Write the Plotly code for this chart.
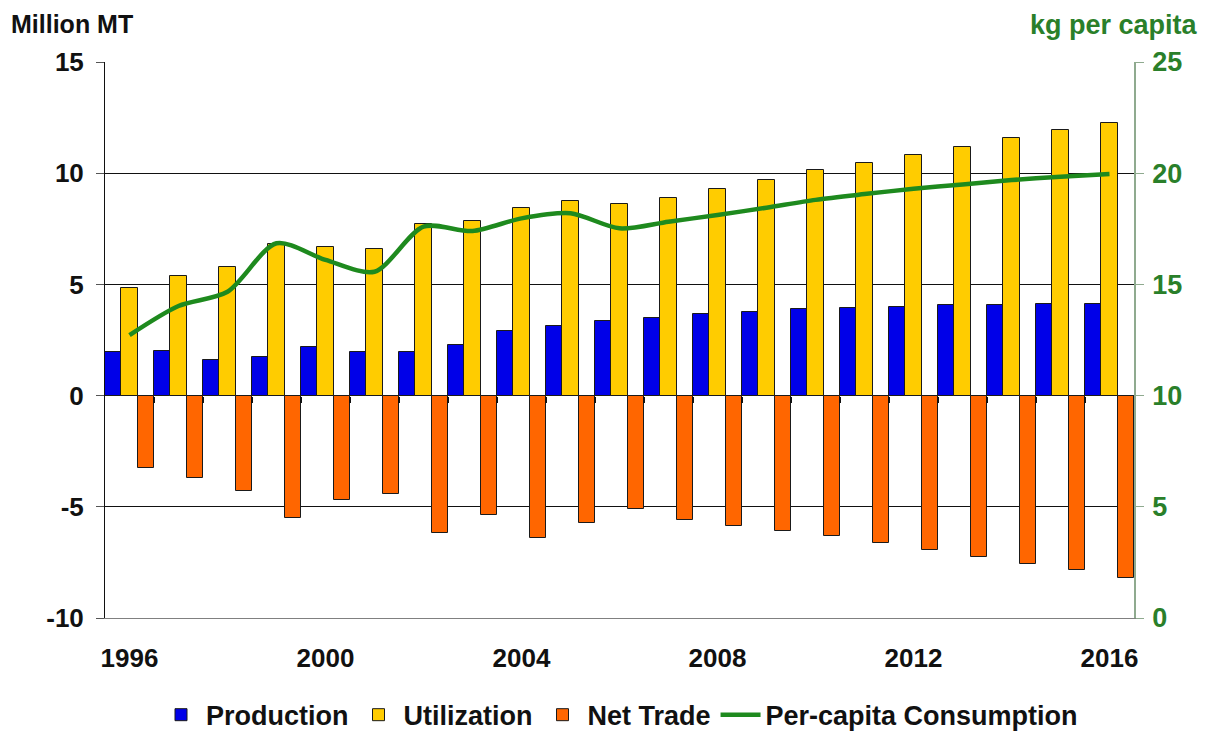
import plotly.graph_objects as go

years = list(range(1996, 2017))
production = [1.95, 2.02, 1.60, 1.75, 2.20, 1.95, 1.95, 2.29, 2.92, 3.13, 3.37,
              3.48, 3.66, 3.78, 3.88, 3.94, 4.00, 4.06, 4.06, 4.12, 4.12]
utilization = [4.83, 5.38, 5.79, 6.83, 6.69, 6.61, 7.72, 7.87, 8.42, 8.75, 8.63,
               8.90, 9.31, 9.71, 10.15, 10.48, 10.84, 11.17, 11.59, 11.93, 12.26]
net_trade = [-3.25, -3.72, -4.27, -5.52, -4.69, -4.42, -6.20, -5.35, -6.42, -5.74, -5.10,
             -5.58, -5.86, -6.07, -6.33, -6.62, -6.94, -7.27, -7.57, -7.85, -8.20]
per_capita = [12.72, 14.03, 14.67, 16.85, 16.10, 15.57, 17.60, 17.40, 17.97, 18.20, 17.52,
              17.82, 18.12, 18.45, 18.80, 19.06, 19.30, 19.49, 19.69, 19.84, 19.96]
x_ticks = [1996, 2000, 2004, 2008, 2012, 2016]
left_ticks = [-10, -5, 0, 5, 10, 15]
left_labels = ["-10", "-5", "0", "5", "10", "15"]
right_ticks = [0, 5, 10, 15, 20, 25]

FONT = "Liberation Sans"
GREEN = "#1E8A1E"
TXT_GREEN = "#2A7F2A"
Y_MIN, Y_MAX = -10, 15

fig = go.Figure()
fig.add_trace(go.Bar(x=years, y=production, name="Production",
                     marker=dict(color="#0000E8", line=dict(color="#1a1a1a", width=1))))
fig.add_trace(go.Bar(x=years, y=utilization, name="Utilization",
                     marker=dict(color="#FFCC00", line=dict(color="#1a1a1a", width=1))))
fig.add_trace(go.Bar(x=years, y=net_trade, name="Net Trade",
                     marker=dict(color="#FF6600", line=dict(color="#1a1a1a", width=1))))
fig.add_trace(go.Scatter(x=years, y=per_capita, name="Per-capita Consumption",
                         mode="lines", yaxis="y2",
                         line=dict(color=GREEN, width=4.5, shape="spline", smoothing=0.8)))
# invisible helper trace so the category-boundary tick axis (crossing at zero) is drawn
fig.add_trace(go.Scatter(x=[years[0]], y=[0], xaxis="x2", mode="markers",
                         marker=dict(opacity=0), showlegend=False, hoverinfo="skip"))

boundaries = [y + 0.5 for y in years[:-1]]

fig.update_layout(
    width=1202, height=726,
    margin=dict(l=97, r=76, t=54, b=116),
    paper_bgcolor="white", plot_bgcolor="white",
    barmode="group", bargap=0, bargroupgap=0,
    font=dict(family=FONT, size=26, color="#111111", weight="bold"),
    showlegend=True,
    legend=dict(orientation="h", x=0.5, xanchor="center",
                yref="container", y=0.026, yanchor="middle",
                font=dict(size=27, family=FONT, color="#111111", weight="bold"),
                itemwidth=40, tracegroupgap=0),
    xaxis=dict(range=[1995.5, 2016.5], tickvals=x_ticks, ticktext=[str(v) for v in x_ticks],
               showgrid=False, zeroline=False, showline=True, linecolor="#808080", linewidth=1,
               ticks="", ticklabelstandoff=17, automargin=False,
               tickfont=dict(size=26, family=FONT, color="#111111", weight="bold")),
    xaxis2=dict(matches="x", overlaying="x", anchor="free",
                position=(0 - Y_MIN) / (Y_MAX - Y_MIN),
                tickvals=boundaries, ticks="outside", ticklen=6, tickwidth=2,
                tickcolor="#111111", showticklabels=False, showgrid=False,
                zeroline=False, showline=False, automargin=False),
    yaxis=dict(range=[Y_MIN, Y_MAX], tickvals=left_ticks, ticktext=left_labels,
               showgrid=True, gridcolor="#111111",
               gridwidth=1, zeroline=True, zerolinecolor="#111111", zerolinewidth=1,
               showline=True, linecolor="#111111", linewidth=1, automargin=False,
               ticks="outside", ticklen=8, tickcolor="#555555", ticklabelstandoff=7,
               tickfont=dict(size=26, family=FONT, color="#111111", weight="bold")),
    yaxis2=dict(range=[0, 25], tickvals=right_ticks, overlaying="y", side="right",
                showgrid=False, zeroline=False, showline=True, linecolor="#8FAA8F", linewidth=1.5,
                ticks="outside", ticklen=8, tickcolor="#8FAA8F", ticklabelstandoff=3,
                automargin=False,
                tickfont=dict(size=27, family=FONT, color=TXT_GREEN, weight="bold")),
    annotations=[
        dict(text="Million MT", xref="paper", yref="paper", x=-0.093, y=1.097,
             xanchor="left", yanchor="top", showarrow=False,
             font=dict(size=25, family=FONT, color="#111111", weight="bold")),
        dict(text="kg per capita", xref="paper", yref="paper", x=1.064, y=1.097,
             xanchor="right", yanchor="top", showarrow=False,
             font=dict(size=27, family=FONT, color=TXT_GREEN, weight="bold")),
    ],
)

fig.write_html("out.html")
